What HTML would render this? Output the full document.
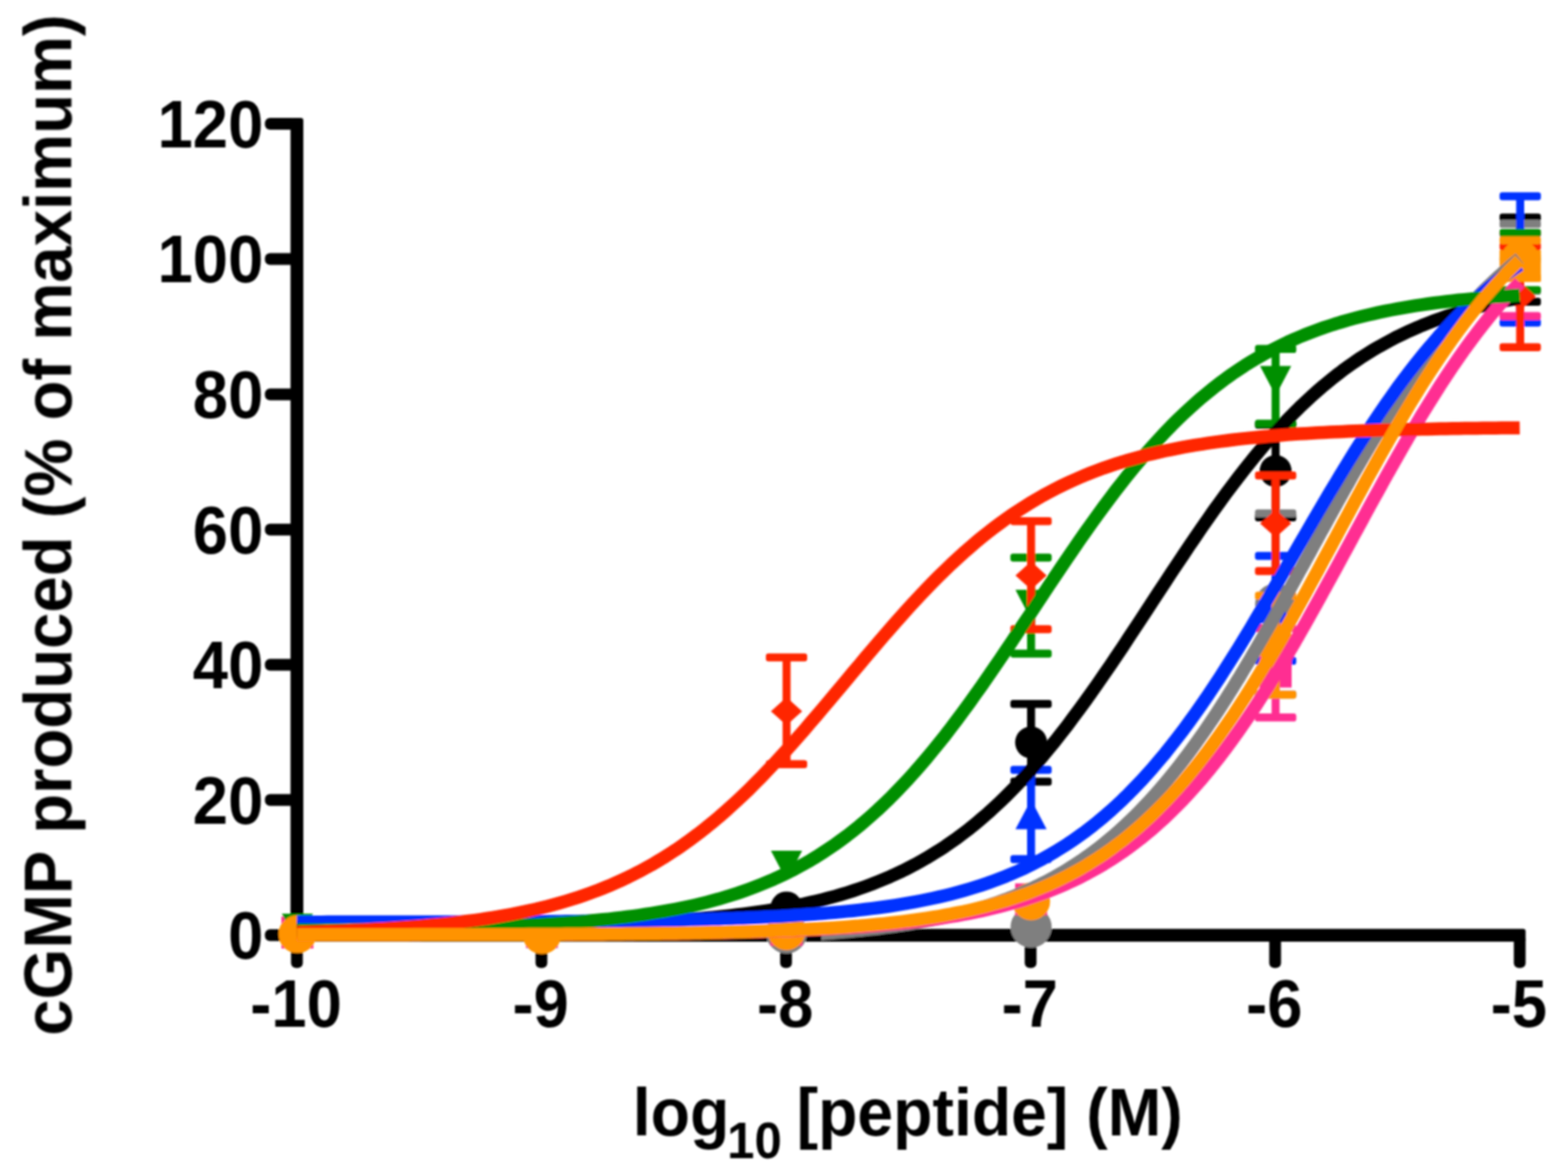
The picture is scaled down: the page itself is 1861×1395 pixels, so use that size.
<!DOCTYPE html>
<html lang="en">
<head>
<meta charset="utf-8">
<title>cGMP produced vs log10 [peptide]</title>
<style>
html,body{margin:0;padding:0;background:#fff;}
body{width:1861px;height:1395px;}
svg{display:block;}
text{font-family:"Liberation Sans",sans-serif;font-weight:bold;fill:#000;}
</style>
</head>
<body>
<svg xmlns="http://www.w3.org/2000/svg" width="1861" height="1395" viewBox="0 0 1861 1395">
<defs><filter id="soft" x="0" y="0" width="1861" height="1395" filterUnits="userSpaceOnUse"><feGaussianBlur stdDeviation="0.80"/></filter></defs>
<rect width="1861" height="1395" fill="#ffffff"/>
<g id="chart" filter="url(#soft)">
<g id="axes" fill="#000">
<rect x="344.8" y="140.1" width="15.2" height="977.8" rx="3"/>
<rect x="344.8" y="1102.7" width="1465.9" height="15.2" rx="3"/>
<rect x="314.4" y="1103.3" width="38.0" height="14.0" rx="6.0"/>
<rect x="314.4" y="942.8" width="38.0" height="14.0" rx="6.0"/>
<rect x="314.4" y="782.2" width="38.0" height="14.0" rx="6.0"/>
<rect x="314.4" y="621.7" width="38.0" height="14.0" rx="6.0"/>
<rect x="314.4" y="461.2" width="38.0" height="14.0" rx="6.0"/>
<rect x="314.4" y="300.6" width="38.0" height="14.0" rx="6.0"/>
<rect x="314.4" y="140.1" width="38.0" height="14.0" rx="6.0"/>
<rect x="345.4" y="1110.3" width="14.0" height="39.0" rx="6.0"/>
<rect x="635.6" y="1110.3" width="14.0" height="39.0" rx="6.0"/>
<rect x="925.9" y="1110.3" width="14.0" height="39.0" rx="6.0"/>
<rect x="1216.2" y="1110.3" width="14.0" height="39.0" rx="6.0"/>
<rect x="1506.4" y="1110.3" width="14.0" height="39.0" rx="6.0"/>
<rect x="1796.7" y="1110.3" width="14.0" height="39.0" rx="6.0"/>
</g>
<g id="ylabels">
<text transform="translate(312.5 1138.1) scale(0.9400 1)" font-size="80.0" text-anchor="end">0</text>
<text transform="translate(312.5 977.6) scale(0.9400 1)" font-size="80.0" text-anchor="end">20</text>
<text transform="translate(312.5 817.0) scale(0.9400 1)" font-size="80.0" text-anchor="end">40</text>
<text transform="translate(312.5 656.5) scale(0.9400 1)" font-size="80.0" text-anchor="end">60</text>
<text transform="translate(312.5 496.0) scale(0.9400 1)" font-size="80.0" text-anchor="end">80</text>
<text transform="translate(312.5 335.4) scale(0.9400 1)" font-size="80.0" text-anchor="end">100</text>
<text transform="translate(312.5 174.9) scale(0.9400 1)" font-size="80.0" text-anchor="end">120</text>
</g>
<g id="xlabels">
<text transform="translate(351.4 1219.0) scale(0.9400 1)" font-size="80.0" text-anchor="middle">-10</text>
<text transform="translate(641.6 1219.0) scale(0.9400 1)" font-size="80.0" text-anchor="middle">-9</text>
<text transform="translate(931.9 1219.0) scale(0.9400 1)" font-size="80.0" text-anchor="middle">-8</text>
<text transform="translate(1222.2 1219.0) scale(0.9400 1)" font-size="80.0" text-anchor="middle">-7</text>
<text transform="translate(1512.4 1219.0) scale(0.9400 1)" font-size="80.0" text-anchor="middle">-6</text>
<text transform="translate(1802.7 1219.0) scale(0.9400 1)" font-size="80.0" text-anchor="middle">-5</text>
</g>
<g id="xtitle">
<text transform="translate(751.0 1347.5) scale(0.9550 1)" font-size="80.0" xml:space="preserve">log<tspan x="117.28" dy="27.5" font-size="61.0">10</tspan><tspan x="181.42" dy="-27.5"> [peptide] (M)</tspan></text>
</g>
<g id="ytitle">
<text transform="translate(84.5 623.3) rotate(-90) scale(0.9686 1)" font-size="80.0" text-anchor="middle">cGMP produced (% of maximum)</text>
</g>
<g id="symbols">
<g class="black"><circle cx="353.0" cy="1110.3" r="19.0" fill="#000000"/><circle cx="643.2" cy="1110.3" r="19.0" fill="#000000"/><circle cx="933.5" cy="1077.4" r="19.0" fill="#000000"/><g fill="#000000"><rect x="1219.0" y="835.8" width="9.5" height="92.3"/><rect x="1199.2" y="831.0" width="49.0" height="9.5" rx="3.2"/><rect x="1199.2" y="923.3" width="49.0" height="9.5" rx="3.2"/></g><circle cx="1223.8" cy="881.5" r="19.0" fill="#000000"/><g fill="#000000"><rect x="1509.2" y="504.3" width="9.5" height="110.0"/><rect x="1489.5" y="499.5" width="49.0" height="9.5" rx="3.2"/><rect x="1489.5" y="609.5" width="49.0" height="9.5" rx="3.2"/></g><circle cx="1514.0" cy="559.3" r="19.0" fill="#000000"/><g fill="#000000"><rect x="1799.5" y="258.3" width="9.5" height="99.9"/><rect x="1779.8" y="253.5" width="49.0" height="9.5" rx="3.2"/><rect x="1779.8" y="353.4" width="49.0" height="9.5" rx="3.2"/></g><circle cx="1804.2" cy="307.6" r="19.0" fill="#000000"/></g>
<g class="gray"><circle cx="933.5" cy="1107.6" r="24.4" fill="#7f7f7f"/><circle cx="1223.8" cy="1100.7" r="24.4" fill="#7f7f7f"/><g fill="#7f7f7f"><rect x="1509.2" y="609.4" width="9.5" height="215.1"/><rect x="1489.5" y="604.7" width="49.0" height="9.5" rx="3.2"/><rect x="1489.5" y="819.8" width="49.0" height="9.5" rx="3.2"/></g><circle cx="1514.0" cy="717.0" r="24.4" fill="#7f7f7f"/><g fill="#7f7f7f"><rect x="1799.5" y="265.9" width="9.5" height="79.5"/><rect x="1779.8" y="261.1" width="49.0" height="9.5" rx="3.2"/><rect x="1779.8" y="340.6" width="49.0" height="9.5" rx="3.2"/></g><circle cx="1804.2" cy="307.6" r="24.4" fill="#7f7f7f"/></g>
<g class="blue"><path d="M353.0 1088.7 L371.5 1123.9 L334.5 1123.9 Z" fill="#0433ff"/><path d="M643.2 1090.3 L661.8 1125.5 L624.8 1125.5 Z" fill="#0433ff"/><path d="M933.5 1084.7 L952.0 1119.8 L915.0 1119.8 Z" fill="#0433ff"/><g fill="#0433ff"><rect x="1219.0" y="914.0" width="9.5" height="106.0"/><rect x="1199.2" y="909.3" width="49.0" height="9.5" rx="3.2"/><rect x="1199.2" y="1015.2" width="49.0" height="9.5" rx="3.2"/></g><path d="M1223.8 949.4 L1242.2 984.6 L1205.2 984.6 Z" fill="#0433ff"/><g fill="#0433ff"><rect x="1509.2" y="660.0" width="9.5" height="124.4"/><rect x="1489.5" y="655.3" width="49.0" height="9.5" rx="3.2"/><rect x="1489.5" y="779.7" width="49.0" height="9.5" rx="3.2"/></g><path d="M1514.0 704.6 L1532.5 739.8 L1495.5 739.8 Z" fill="#0433ff"/><g fill="#0433ff"><rect x="1799.5" y="233.0" width="9.5" height="150.1"/><rect x="1779.8" y="228.2" width="49.0" height="9.5" rx="3.2"/><rect x="1779.8" y="378.3" width="49.0" height="9.5" rx="3.2"/></g><path d="M1804.2 290.5 L1822.8 325.6 L1785.8 325.6 Z" fill="#0433ff"/></g>
<g class="pink"><rect x="334.0" y="1088.1" width="38.0" height="38.0" fill="#ff2f92"/><rect x="624.2" y="1087.3" width="38.0" height="38.0" fill="#ff2f92"/><rect x="914.5" y="1084.9" width="38.0" height="38.0" fill="#ff2f92"/><rect x="1204.8" y="1048.8" width="38.0" height="38.0" fill="#ff2f92"/><g fill="#ff2f92"><rect x="1509.2" y="745.9" width="9.5" height="106.0"/><rect x="1489.5" y="741.1" width="49.0" height="9.5" rx="3.2"/><rect x="1489.5" y="847.1" width="49.0" height="9.5" rx="3.2"/></g><rect x="1495.0" y="778.3" width="38.0" height="38.0" fill="#ff2f92"/><g fill="#ff2f92"><rect x="1799.5" y="277.1" width="9.5" height="98.1"/><rect x="1779.8" y="272.4" width="49.0" height="9.5" rx="3.2"/><rect x="1779.8" y="370.5" width="49.0" height="9.5" rx="3.2"/></g><rect x="1785.2" y="288.6" width="38.0" height="38.0" fill="#ff2f92"/></g>
<g class="green"><path d="M353.0 1119.8 L371.5 1084.7 L334.5 1084.7 Z" fill="#008f00"/><path d="M643.2 1123.9 L661.8 1088.7 L624.8 1088.7 Z" fill="#008f00"/><path d="M933.5 1045.2 L952.0 1010.0 L915.0 1010.0 Z" fill="#008f00"/><g fill="#008f00"><rect x="1219.0" y="662.0" width="9.5" height="114.0"/><rect x="1199.2" y="657.3" width="49.0" height="9.5" rx="3.2"/><rect x="1199.2" y="771.2" width="49.0" height="9.5" rx="3.2"/></g><path d="M1223.8 735.4 L1242.2 700.2 L1205.2 700.2 Z" fill="#008f00"/><g fill="#008f00"><rect x="1509.2" y="414.4" width="9.5" height="88.7"/><rect x="1489.5" y="409.6" width="49.0" height="9.5" rx="3.2"/><rect x="1489.5" y="498.3" width="49.0" height="9.5" rx="3.2"/></g><path d="M1514.0 469.7 L1532.5 434.5 L1495.5 434.5 Z" fill="#008f00"/><g fill="#008f00"><rect x="1799.5" y="276.6" width="9.5" height="68.0"/><rect x="1779.8" y="271.8" width="49.0" height="9.5" rx="3.2"/><rect x="1779.8" y="339.8" width="49.0" height="9.5" rx="3.2"/></g><path d="M1804.2 328.4 L1822.8 293.3 L1785.8 293.3 Z" fill="#008f00"/></g>
<g class="red"><path d="M353.0 1093.6 L371.5 1110.3 L353.0 1127.0 L334.5 1110.3 Z" fill="#ff2600"/><path d="M643.2 1091.2 L661.8 1107.9 L643.2 1124.5 L624.8 1107.9 Z" fill="#ff2600"/><g fill="#ff2600"><rect x="928.8" y="780.5" width="9.5" height="126.7"/><rect x="909.0" y="775.7" width="49.0" height="9.5" rx="3.2"/><rect x="909.0" y="902.5" width="49.0" height="9.5" rx="3.2"/></g><path d="M933.5 827.7 L952.0 844.4 L933.5 861.0 L915.0 844.4 Z" fill="#ff2600"/><g fill="#ff2600"><rect x="1219.0" y="618.7" width="9.5" height="128.3"/><rect x="1199.2" y="613.9" width="49.0" height="9.5" rx="3.2"/><rect x="1199.2" y="742.3" width="49.0" height="9.5" rx="3.2"/></g><path d="M1223.8 666.6 L1242.2 683.3 L1223.8 699.9 L1205.2 683.3 Z" fill="#ff2600"/><g fill="#ff2600"><rect x="1509.2" y="564.5" width="9.5" height="113.5"/><rect x="1489.5" y="559.7" width="49.0" height="9.5" rx="3.2"/><rect x="1489.5" y="673.2" width="49.0" height="9.5" rx="3.2"/></g><path d="M1514.0 604.8 L1532.5 621.5 L1514.0 638.1 L1495.5 621.5 Z" fill="#ff2600"/><g fill="#ff2600"><rect x="1799.5" y="292.4" width="9.5" height="119.9"/><rect x="1779.8" y="287.6" width="49.0" height="9.5" rx="3.2"/><rect x="1779.8" y="407.5" width="49.0" height="9.5" rx="3.2"/></g><path d="M1804.2 335.1 L1822.8 351.8 L1804.2 368.4 L1785.8 351.8 Z" fill="#ff2600"/></g>
<g class="orange"><circle cx="353.0" cy="1109.1" r="22.5" fill="#ff9300"/><circle cx="643.2" cy="1110.3" r="22.5" fill="#ff9300"/><circle cx="933.5" cy="1105.7" r="22.5" fill="#ff9300"/><circle cx="1223.8" cy="1070.2" r="22.5" fill="#ff9300"/><g fill="#ff9300"><rect x="1509.2" y="707.4" width="9.5" height="117.4"/><rect x="1489.5" y="702.6" width="49.0" height="9.5" rx="3.2"/><rect x="1489.5" y="820.0" width="49.0" height="9.5" rx="3.2"/></g><circle cx="1514.0" cy="765.2" r="22.5" fill="#ff9300"/><g fill="#ff9300"><rect x="1799.5" y="285.2" width="9.5" height="44.5"/><rect x="1779.8" y="280.4" width="49.0" height="9.5" rx="3.2"/><rect x="1779.8" y="324.9" width="49.0" height="9.5" rx="3.2"/></g><circle cx="1804.2" cy="307.6" r="22.5" fill="#ff9300"/><rect x="1779.8" y="297.0" width="49.0" height="37.5" fill="#ff9300"/></g>
</g>
<g id="curves" fill="none" stroke-width="15.5" stroke-linejoin="round">
<path d="M352.4 1101.0 L359.7 1101.0 L366.9 1101.0 L374.2 1101.0 L381.4 1101.0 L388.7 1101.0 L395.9 1100.9 L403.2 1100.9 L410.4 1100.9 L417.7 1100.9 L425.0 1100.8 L432.2 1100.8 L439.5 1100.8 L446.7 1100.8 L454.0 1100.7 L461.2 1100.7 L468.5 1100.7 L475.8 1100.6 L483.0 1100.6 L490.3 1100.6 L497.5 1100.5 L504.8 1100.5 L512.0 1100.4 L519.3 1100.4 L526.5 1100.3 L533.8 1100.2 L541.1 1100.2 L548.3 1100.1 L555.6 1100.1 L562.8 1100.0 L570.1 1099.9 L577.3 1099.8 L584.6 1099.7 L591.9 1099.6 L599.1 1099.5 L606.4 1099.4 L613.6 1099.3 L620.9 1099.2 L628.1 1099.1 L635.4 1099.0 L642.6 1098.8 L649.9 1098.7 L657.2 1098.5 L664.4 1098.4 L671.7 1098.2 L678.9 1098.0 L686.2 1097.8 L693.4 1097.6 L700.7 1097.4 L708.0 1097.2 L715.2 1096.9 L722.5 1096.7 L729.7 1096.4 L737.0 1096.1 L744.2 1095.8 L751.5 1095.5 L758.8 1095.1 L766.0 1094.8 L773.3 1094.4 L780.5 1094.0 L787.8 1093.6 L795.0 1093.1 L802.3 1092.6 L809.5 1092.1 L816.8 1091.6 L824.1 1091.0 L831.3 1090.4 L838.6 1089.8 L845.8 1089.1 L853.1 1088.4 L860.3 1087.7 L867.6 1086.9 L874.9 1086.0 L882.1 1085.1 L889.4 1084.2 L896.6 1083.2 L903.9 1082.2 L911.1 1081.1 L918.4 1079.9 L925.6 1078.7 L932.9 1077.4 L940.2 1076.0 L947.4 1074.6 L954.7 1073.1 L961.9 1071.4 L969.2 1069.7 L976.4 1068.0 L983.7 1066.1 L991.0 1064.1 L998.2 1062.0 L1005.5 1059.8 L1012.7 1057.5 L1020.0 1055.0 L1027.2 1052.5 L1034.5 1049.8 L1041.7 1046.9 L1049.0 1043.9 L1056.3 1040.8 L1063.5 1037.5 L1070.8 1034.1 L1078.0 1030.5 L1085.3 1026.7 L1092.5 1022.7 L1099.8 1018.6 L1107.0 1014.2 L1114.3 1009.7 L1121.6 1004.9 L1128.8 999.9 L1136.1 994.8 L1143.3 989.4 L1150.6 983.8 L1157.8 977.9 L1165.1 971.8 L1172.4 965.5 L1179.6 958.9 L1186.9 952.1 L1194.1 945.1 L1201.4 937.8 L1208.6 930.3 L1215.9 922.5 L1223.2 914.5 L1230.4 906.2 L1237.7 897.7 L1244.9 888.9 L1252.2 880.0 L1259.4 870.8 L1266.7 861.4 L1273.9 851.7 L1281.2 841.9 L1288.5 831.9 L1295.7 821.8 L1303.0 811.4 L1310.2 800.9 L1317.5 790.3 L1324.7 779.6 L1332.0 768.8 L1339.2 757.8 L1346.5 746.8 L1353.8 735.8 L1361.0 724.7 L1368.3 713.6 L1375.5 702.5 L1382.8 691.5 L1390.0 680.4 L1397.3 669.5 L1404.6 658.6 L1411.8 647.8 L1419.1 637.1 L1426.3 626.5 L1433.6 616.1 L1440.8 605.8 L1448.1 595.7 L1455.3 585.8 L1462.6 576.1 L1469.9 566.5 L1477.1 557.2 L1484.4 548.1 L1491.6 539.2 L1498.9 530.6 L1506.1 522.2 L1513.4 514.0 L1520.7 506.1 L1527.9 498.4 L1535.2 490.9 L1542.4 483.7 L1549.7 476.8 L1556.9 470.1 L1564.2 463.6 L1571.4 457.4 L1578.7 451.4 L1586.0 445.6 L1593.2 440.1 L1600.5 434.8 L1607.7 429.7 L1615.0 424.8 L1622.2 420.2 L1629.5 415.7 L1636.8 411.4 L1644.0 407.4 L1651.3 403.5 L1658.5 399.7 L1665.8 396.2 L1673.0 392.8 L1680.3 389.6 L1687.5 386.5 L1694.8 383.6 L1702.1 380.8 L1709.3 378.2 L1716.6 375.7 L1723.8 373.3 L1731.1 371.0 L1738.3 368.8 L1745.6 366.8 L1752.9 364.8 L1760.1 363.0 L1767.4 361.2 L1774.6 359.6 L1781.9 358.0 L1789.1 356.5 L1796.4 355.1 L1803.7 353.8" stroke="#000000"/>
<path d="M974.4 1108.4 L978.6 1108.1 L982.7 1107.8 L986.8 1107.5 L991.0 1107.1 L995.1 1106.8 L999.3 1106.4 L1003.4 1106.1 L1007.6 1105.7 L1011.7 1105.3 L1015.9 1104.9 L1020.0 1104.5 L1024.2 1104.0 L1028.3 1103.6 L1032.5 1103.1 L1036.6 1102.7 L1040.7 1102.2 L1044.9 1101.7 L1049.0 1101.1 L1053.2 1100.6 L1057.3 1100.1 L1061.5 1099.5 L1065.6 1098.9 L1069.8 1098.3 L1073.9 1097.6 L1078.1 1097.0 L1082.2 1096.3 L1086.4 1095.6 L1090.5 1094.9 L1094.6 1094.2 L1098.8 1093.4 L1102.9 1092.6 L1107.1 1091.8 L1111.2 1091.0 L1115.4 1090.1 L1119.5 1089.2 L1123.7 1088.3 L1127.8 1087.4 L1132.0 1086.4 L1136.1 1085.4 L1140.3 1084.3 L1144.4 1083.3 L1148.5 1082.2 L1152.7 1081.0 L1156.8 1079.9 L1161.0 1078.6 L1165.1 1077.4 L1169.3 1076.1 L1173.4 1074.8 L1177.6 1073.4 L1181.7 1072.0 L1185.9 1070.6 L1190.0 1069.1 L1194.2 1067.6 L1198.3 1066.0 L1202.4 1064.4 L1206.6 1062.7 L1210.7 1061.0 L1214.9 1059.2 L1219.0 1057.4 L1223.2 1055.5 L1227.3 1053.6 L1231.5 1051.6 L1235.6 1049.5 L1239.8 1047.4 L1243.9 1045.3 L1248.1 1043.0 L1252.2 1040.8 L1256.3 1038.4 L1260.5 1036.0 L1264.6 1033.5 L1268.8 1031.0 L1272.9 1028.3 L1277.1 1025.7 L1281.2 1022.9 L1285.4 1020.1 L1289.5 1017.2 L1293.7 1014.2 L1297.8 1011.1 L1302.0 1008.0 L1306.1 1004.8 L1310.2 1001.5 L1314.4 998.1 L1318.5 994.6 L1322.7 991.1 L1326.8 987.5 L1331.0 983.7 L1335.1 979.9 L1339.3 976.0 L1343.4 972.0 L1347.6 968.0 L1351.7 963.8 L1355.9 959.5 L1360.0 955.2 L1364.2 950.7 L1368.3 946.2 L1372.4 941.6 L1376.6 936.8 L1380.7 932.0 L1384.9 927.1 L1389.0 922.0 L1393.2 916.9 L1397.3 911.7 L1401.5 906.4 L1405.6 901.0 L1409.8 895.5 L1413.9 889.9 L1418.1 884.2 L1422.2 878.4 L1426.3 872.6 L1430.5 866.6 L1434.6 860.5 L1438.8 854.4 L1442.9 848.2 L1447.1 841.9 L1451.2 835.5 L1455.4 829.0 L1459.5 822.4 L1463.7 815.8 L1467.8 809.0 L1472.0 802.3 L1476.1 795.4 L1480.2 788.5 L1484.4 781.5 L1488.5 774.4 L1492.7 767.3 L1496.8 760.1 L1501.0 752.9 L1505.1 745.6 L1509.3 738.3 L1513.4 730.9 L1517.6 723.5 L1521.7 716.1 L1525.9 708.6 L1530.0 701.1 L1534.1 693.5 L1538.3 686.0 L1542.4 678.4 L1546.6 670.9 L1550.7 663.3 L1554.9 655.7 L1559.0 648.1 L1563.2 640.5 L1567.3 632.9 L1571.5 625.4 L1575.6 617.8 L1579.8 610.3 L1583.9 602.8 L1588.0 595.3 L1592.2 587.9 L1596.3 580.5 L1600.5 573.1 L1604.6 565.8 L1608.8 558.5 L1612.9 551.3 L1617.1 544.1 L1621.2 537.0 L1625.4 530.0 L1629.5 523.0 L1633.7 516.1 L1637.8 509.2 L1641.9 502.4 L1646.1 495.7 L1650.2 489.1 L1654.4 482.5 L1658.5 476.1 L1662.7 469.7 L1666.8 463.4 L1671.0 457.1 L1675.1 451.0 L1679.3 445.0 L1683.4 439.0 L1687.6 433.2 L1691.7 427.4 L1695.8 421.7 L1700.0 416.1 L1704.1 410.6 L1708.3 405.2 L1712.4 400.0 L1716.6 394.8 L1720.7 389.6 L1724.9 384.6 L1729.0 379.7 L1733.2 374.9 L1737.3 370.2 L1741.5 365.6 L1745.6 361.0 L1749.7 356.6 L1753.9 352.3 L1758.0 348.0 L1762.2 343.8 L1766.3 339.8 L1770.5 335.8 L1774.6 331.9 L1778.8 328.1 L1782.9 324.4 L1787.1 320.8 L1791.2 317.3 L1795.4 313.8 L1799.5 310.4 L1803.7 307.1" stroke="#7f7f7f"/>
<path d="M352.4 1094.7 L359.7 1094.7 L366.9 1094.7 L374.2 1094.7 L381.4 1094.7 L388.7 1094.6 L395.9 1094.6 L403.2 1094.6 L410.4 1094.6 L417.7 1094.6 L425.0 1094.6 L432.2 1094.6 L439.5 1094.6 L446.7 1094.6 L454.0 1094.6 L461.2 1094.6 L468.5 1094.6 L475.8 1094.5 L483.0 1094.5 L490.3 1094.5 L497.5 1094.5 L504.8 1094.5 L512.0 1094.5 L519.3 1094.5 L526.5 1094.5 L533.8 1094.4 L541.1 1094.4 L548.3 1094.4 L555.6 1094.4 L562.8 1094.4 L570.1 1094.3 L577.3 1094.3 L584.6 1094.3 L591.9 1094.3 L599.1 1094.2 L606.4 1094.2 L613.6 1094.2 L620.9 1094.1 L628.1 1094.1 L635.4 1094.1 L642.6 1094.0 L649.9 1094.0 L657.2 1093.9 L664.4 1093.9 L671.7 1093.8 L678.9 1093.8 L686.2 1093.7 L693.4 1093.6 L700.7 1093.6 L708.0 1093.5 L715.2 1093.4 L722.5 1093.4 L729.7 1093.3 L737.0 1093.2 L744.2 1093.1 L751.5 1093.0 L758.8 1092.9 L766.0 1092.8 L773.3 1092.7 L780.5 1092.6 L787.8 1092.4 L795.0 1092.3 L802.3 1092.2 L809.5 1092.0 L816.8 1091.8 L824.1 1091.7 L831.3 1091.5 L838.6 1091.3 L845.8 1091.1 L853.1 1090.9 L860.3 1090.6 L867.6 1090.4 L874.9 1090.1 L882.1 1089.9 L889.4 1089.6 L896.6 1089.3 L903.9 1089.0 L911.1 1088.6 L918.4 1088.3 L925.6 1087.9 L932.9 1087.5 L940.2 1087.0 L947.4 1086.6 L954.7 1086.1 L961.9 1085.6 L969.2 1085.1 L976.4 1084.5 L983.7 1083.9 L991.0 1083.3 L998.2 1082.6 L1005.5 1081.9 L1012.7 1081.2 L1020.0 1080.4 L1027.2 1079.5 L1034.5 1078.6 L1041.7 1077.7 L1049.0 1076.7 L1056.3 1075.7 L1063.5 1074.6 L1070.8 1073.4 L1078.0 1072.2 L1085.3 1070.9 L1092.5 1069.5 L1099.8 1068.0 L1107.0 1066.5 L1114.3 1064.9 L1121.6 1063.2 L1128.8 1061.4 L1136.1 1059.5 L1143.3 1057.5 L1150.6 1055.4 L1157.8 1053.2 L1165.1 1050.8 L1172.4 1048.4 L1179.6 1045.8 L1186.9 1043.0 L1194.1 1040.2 L1201.4 1037.1 L1208.6 1034.0 L1215.9 1030.6 L1223.2 1027.1 L1230.4 1023.4 L1237.7 1019.6 L1244.9 1015.5 L1252.2 1011.3 L1259.4 1006.8 L1266.7 1002.2 L1273.9 997.3 L1281.2 992.2 L1288.5 986.9 L1295.7 981.3 L1303.0 975.5 L1310.2 969.5 L1317.5 963.2 L1324.7 956.6 L1332.0 949.8 L1339.2 942.7 L1346.5 935.3 L1353.8 927.7 L1361.0 919.8 L1368.3 911.6 L1375.5 903.1 L1382.8 894.4 L1390.0 885.3 L1397.3 876.0 L1404.6 866.5 L1411.8 856.6 L1419.1 846.5 L1426.3 836.2 L1433.6 825.6 L1440.8 814.8 L1448.1 803.7 L1455.3 792.4 L1462.6 780.9 L1469.9 769.3 L1477.1 757.4 L1484.4 745.5 L1491.6 733.3 L1498.9 721.1 L1506.1 708.7 L1513.4 696.3 L1520.7 683.8 L1527.9 671.3 L1535.2 658.7 L1542.4 646.1 L1549.7 633.6 L1556.9 621.1 L1564.2 608.6 L1571.4 596.3 L1578.7 584.0 L1586.0 571.9 L1593.2 559.9 L1600.5 548.0 L1607.7 536.4 L1615.0 524.9 L1622.2 513.6 L1629.5 502.5 L1636.8 491.7 L1644.0 481.0 L1651.3 470.7 L1658.5 460.5 L1665.8 450.7 L1673.0 441.1 L1680.3 431.8 L1687.5 422.7 L1694.8 414.0 L1702.1 405.5 L1709.3 397.2 L1716.6 389.3 L1723.8 381.6 L1731.1 374.3 L1738.3 367.1 L1745.6 360.3 L1752.9 353.7 L1760.1 347.4 L1767.4 341.3 L1774.6 335.5 L1781.9 329.9 L1789.1 324.6 L1796.4 319.5 L1803.7 314.6" stroke="#0433ff"/>
<path d="M352.4 1109.5 L359.7 1109.4 L366.9 1109.4 L374.2 1109.4 L381.4 1109.4 L388.7 1109.4 L395.9 1109.4 L403.2 1109.4 L410.4 1109.4 L417.7 1109.4 L425.0 1109.4 L432.2 1109.4 L439.5 1109.4 L446.7 1109.4 L454.0 1109.4 L461.2 1109.4 L468.5 1109.4 L475.8 1109.4 L483.0 1109.4 L490.3 1109.4 L497.5 1109.4 L504.8 1109.3 L512.0 1109.3 L519.3 1109.3 L526.5 1109.3 L533.8 1109.3 L541.1 1109.3 L548.3 1109.3 L555.6 1109.3 L562.8 1109.3 L570.1 1109.2 L577.3 1109.2 L584.6 1109.2 L591.9 1109.2 L599.1 1109.2 L606.4 1109.2 L613.6 1109.1 L620.9 1109.1 L628.1 1109.1 L635.4 1109.1 L642.6 1109.0 L649.9 1109.0 L657.2 1109.0 L664.4 1109.0 L671.7 1108.9 L678.9 1108.9 L686.2 1108.8 L693.4 1108.8 L700.7 1108.8 L708.0 1108.7 L715.2 1108.7 L722.5 1108.6 L729.7 1108.6 L737.0 1108.5 L744.2 1108.5 L751.5 1108.4 L758.8 1108.3 L766.0 1108.3 L773.3 1108.2 L780.5 1108.1 L787.8 1108.0 L795.0 1108.0 L802.3 1107.9 L809.5 1107.8 L816.8 1107.7 L824.1 1107.6 L831.3 1107.4 L838.6 1107.3 L845.8 1107.2 L853.1 1107.1 L860.3 1106.9 L867.6 1106.8 L874.9 1106.6 L882.1 1106.4 L889.4 1106.3 L896.6 1106.1 L903.9 1105.9 L911.1 1105.6 L918.4 1105.4 L925.6 1105.2 L932.9 1104.9 L940.2 1104.7 L947.4 1104.4 L954.7 1104.1 L961.9 1103.7 L969.2 1103.4 L976.4 1103.0 L983.7 1102.7 L991.0 1102.3 L998.2 1101.8 L1005.5 1101.4 L1012.7 1100.9 L1020.0 1100.4 L1027.2 1099.9 L1034.5 1099.3 L1041.7 1098.7 L1049.0 1098.1 L1056.3 1097.4 L1063.5 1096.7 L1070.8 1096.0 L1078.0 1095.2 L1085.3 1094.3 L1092.5 1093.5 L1099.8 1092.5 L1107.0 1091.5 L1114.3 1090.5 L1121.6 1089.4 L1128.8 1088.2 L1136.1 1087.0 L1143.3 1085.7 L1150.6 1084.3 L1157.8 1082.9 L1165.1 1081.4 L1172.4 1079.7 L1179.6 1078.0 L1186.9 1076.2 L1194.1 1074.3 L1201.4 1072.3 L1208.6 1070.2 L1215.9 1068.0 L1223.2 1065.7 L1230.4 1063.2 L1237.7 1060.6 L1244.9 1057.9 L1252.2 1055.0 L1259.4 1052.0 L1266.7 1048.8 L1273.9 1045.4 L1281.2 1041.9 L1288.5 1038.2 L1295.7 1034.3 L1303.0 1030.2 L1310.2 1026.0 L1317.5 1021.5 L1324.7 1016.8 L1332.0 1011.9 L1339.2 1006.7 L1346.5 1001.3 L1353.8 995.7 L1361.0 989.8 L1368.3 983.7 L1375.5 977.3 L1382.8 970.7 L1390.0 963.7 L1397.3 956.5 L1404.6 949.0 L1411.8 941.2 L1419.1 933.1 L1426.3 924.8 L1433.6 916.1 L1440.8 907.1 L1448.1 897.9 L1455.3 888.3 L1462.6 878.4 L1469.9 868.3 L1477.1 857.9 L1484.4 847.2 L1491.6 836.2 L1498.9 824.9 L1506.1 813.4 L1513.4 801.7 L1520.7 789.7 L1527.9 777.6 L1535.2 765.2 L1542.4 752.6 L1549.7 739.8 L1556.9 726.9 L1564.2 713.9 L1571.4 700.8 L1578.7 687.5 L1586.0 674.2 L1593.2 660.9 L1600.5 647.5 L1607.7 634.1 L1615.0 620.7 L1622.2 607.4 L1629.5 594.1 L1636.8 580.9 L1644.0 567.8 L1651.3 554.9 L1658.5 542.1 L1665.8 529.4 L1673.0 516.9 L1680.3 504.6 L1687.5 492.6 L1694.8 480.7 L1702.1 469.1 L1709.3 457.7 L1716.6 446.6 L1723.8 435.8 L1731.1 425.2 L1738.3 414.9 L1745.6 404.9 L1752.9 395.2 L1760.1 385.8 L1767.4 376.7 L1774.6 367.9 L1781.9 359.4 L1789.1 351.2 L1796.4 343.2 L1803.7 335.6" stroke="#ff2f92"/>
<path d="M352.4 1104.1 L359.7 1104.1 L366.9 1104.0 L374.2 1104.0 L381.4 1103.9 L388.7 1103.8 L395.9 1103.8 L403.2 1103.7 L410.4 1103.7 L417.7 1103.6 L425.0 1103.5 L432.2 1103.4 L439.5 1103.4 L446.7 1103.3 L454.0 1103.2 L461.2 1103.1 L468.5 1103.0 L475.8 1102.9 L483.0 1102.7 L490.3 1102.6 L497.5 1102.5 L504.8 1102.4 L512.0 1102.2 L519.3 1102.1 L526.5 1101.9 L533.8 1101.7 L541.1 1101.5 L548.3 1101.3 L555.6 1101.1 L562.8 1100.9 L570.1 1100.7 L577.3 1100.4 L584.6 1100.2 L591.9 1099.9 L599.1 1099.6 L606.4 1099.3 L613.6 1099.0 L620.9 1098.6 L628.1 1098.3 L635.4 1097.9 L642.6 1097.5 L649.9 1097.0 L657.2 1096.6 L664.4 1096.1 L671.7 1095.6 L678.9 1095.0 L686.2 1094.5 L693.4 1093.9 L700.7 1093.2 L708.0 1092.5 L715.2 1091.8 L722.5 1091.1 L729.7 1090.3 L737.0 1089.4 L744.2 1088.5 L751.5 1087.6 L758.8 1086.6 L766.0 1085.5 L773.3 1084.4 L780.5 1083.2 L787.8 1082.0 L795.0 1080.7 L802.3 1079.3 L809.5 1077.8 L816.8 1076.3 L824.1 1074.7 L831.3 1073.0 L838.6 1071.2 L845.8 1069.3 L853.1 1067.3 L860.3 1065.1 L867.6 1062.9 L874.9 1060.6 L882.1 1058.1 L889.4 1055.5 L896.6 1052.8 L903.9 1049.9 L911.1 1046.9 L918.4 1043.8 L925.6 1040.5 L932.9 1037.0 L940.2 1033.4 L947.4 1029.5 L954.7 1025.5 L961.9 1021.4 L969.2 1017.0 L976.4 1012.4 L983.7 1007.6 L991.0 1002.6 L998.2 997.4 L1005.5 992.0 L1012.7 986.4 L1020.0 980.5 L1027.2 974.4 L1034.5 968.0 L1041.7 961.5 L1049.0 954.6 L1056.3 947.6 L1063.5 940.3 L1070.8 932.7 L1078.0 924.9 L1085.3 916.9 L1092.5 908.6 L1099.8 900.1 L1107.0 891.4 L1114.3 882.4 L1121.6 873.3 L1128.8 863.9 L1136.1 854.3 L1143.3 844.5 L1150.6 834.6 L1157.8 824.4 L1165.1 814.2 L1172.4 803.7 L1179.6 793.2 L1186.9 782.5 L1194.1 771.8 L1201.4 761.0 L1208.6 750.1 L1215.9 739.1 L1223.2 728.2 L1230.4 717.2 L1237.7 706.2 L1244.9 695.3 L1252.2 684.4 L1259.4 673.6 L1266.7 662.9 L1273.9 652.3 L1281.2 641.7 L1288.5 631.3 L1295.7 621.1 L1303.0 611.0 L1310.2 601.1 L1317.5 591.3 L1324.7 581.8 L1332.0 572.5 L1339.2 563.3 L1346.5 554.4 L1353.8 545.7 L1361.0 537.3 L1368.3 529.0 L1375.5 521.1 L1382.8 513.3 L1390.0 505.8 L1397.3 498.6 L1404.6 491.5 L1411.8 484.8 L1419.1 478.2 L1426.3 471.9 L1433.6 465.9 L1440.8 460.1 L1448.1 454.5 L1455.3 449.1 L1462.6 443.9 L1469.9 439.0 L1477.1 434.2 L1484.4 429.7 L1491.6 425.4 L1498.9 421.2 L1506.1 417.3 L1513.4 413.5 L1520.7 409.9 L1527.9 406.4 L1535.2 403.1 L1542.4 400.0 L1549.7 397.0 L1556.9 394.2 L1564.2 391.5 L1571.4 388.9 L1578.7 386.5 L1586.0 384.2 L1593.2 382.0 L1600.5 379.9 L1607.7 377.9 L1615.0 376.0 L1622.2 374.2 L1629.5 372.6 L1636.8 370.9 L1644.0 369.4 L1651.3 368.0 L1658.5 366.6 L1665.8 365.3 L1673.0 364.1 L1680.3 362.9 L1687.5 361.8 L1694.8 360.8 L1702.1 359.8 L1709.3 358.9 L1716.6 358.0 L1723.8 357.1 L1731.1 356.3 L1738.3 355.6 L1745.6 354.9 L1752.9 354.2 L1760.1 353.6 L1767.4 353.0 L1774.6 352.4 L1781.9 351.9 L1789.1 351.4 L1796.4 350.9 L1803.7 350.4" stroke="#008f00"/>
<path d="M352.4 1106.9 L359.7 1106.7 L366.9 1106.5 L374.2 1106.2 L381.4 1106.0 L388.7 1105.7 L395.9 1105.5 L403.2 1105.2 L410.4 1104.9 L417.7 1104.6 L425.0 1104.2 L432.2 1103.9 L439.5 1103.5 L446.7 1103.1 L454.0 1102.7 L461.2 1102.2 L468.5 1101.8 L475.8 1101.3 L483.0 1100.8 L490.3 1100.2 L497.5 1099.6 L504.8 1099.0 L512.0 1098.3 L519.3 1097.6 L526.5 1096.9 L533.8 1096.1 L541.1 1095.3 L548.3 1094.4 L555.6 1093.5 L562.8 1092.6 L570.1 1091.6 L577.3 1090.5 L584.6 1089.3 L591.9 1088.1 L599.1 1086.9 L606.4 1085.6 L613.6 1084.2 L620.9 1082.7 L628.1 1081.1 L635.4 1079.5 L642.6 1077.7 L649.9 1075.9 L657.2 1074.0 L664.4 1072.0 L671.7 1069.9 L678.9 1067.7 L686.2 1065.3 L693.4 1062.9 L700.7 1060.3 L708.0 1057.6 L715.2 1054.7 L722.5 1051.8 L729.7 1048.7 L737.0 1045.4 L744.2 1042.0 L751.5 1038.4 L758.8 1034.7 L766.0 1030.8 L773.3 1026.8 L780.5 1022.5 L787.8 1018.1 L795.0 1013.5 L802.3 1008.8 L809.5 1003.8 L816.8 998.7 L824.1 993.3 L831.3 987.8 L838.6 982.1 L845.8 976.2 L853.1 970.1 L860.3 963.8 L867.6 957.3 L874.9 950.6 L882.1 943.8 L889.4 936.8 L896.6 929.6 L903.9 922.2 L911.1 914.7 L918.4 907.0 L925.6 899.1 L932.9 891.2 L940.2 883.1 L947.4 874.9 L954.7 866.6 L961.9 858.1 L969.2 849.7 L976.4 841.1 L983.7 832.5 L991.0 823.8 L998.2 815.2 L1005.5 806.5 L1012.7 797.8 L1020.0 789.2 L1027.2 780.5 L1034.5 771.9 L1041.7 763.4 L1049.0 755.0 L1056.3 746.6 L1063.5 738.3 L1070.8 730.2 L1078.0 722.1 L1085.3 714.2 L1092.5 706.5 L1099.8 698.9 L1107.0 691.4 L1114.3 684.1 L1121.6 677.0 L1128.8 670.0 L1136.1 663.3 L1143.3 656.7 L1150.6 650.3 L1157.8 644.1 L1165.1 638.1 L1172.4 632.3 L1179.6 626.7 L1186.9 621.2 L1194.1 616.0 L1201.4 610.9 L1208.6 606.1 L1215.9 601.4 L1223.2 596.9 L1230.4 592.6 L1237.7 588.4 L1244.9 584.5 L1252.2 580.6 L1259.4 577.0 L1266.7 573.5 L1273.9 570.2 L1281.2 567.0 L1288.5 563.9 L1295.7 561.0 L1303.0 558.3 L1310.2 555.6 L1317.5 553.1 L1324.7 550.7 L1332.0 548.4 L1339.2 546.2 L1346.5 544.2 L1353.8 542.2 L1361.0 540.3 L1368.3 538.6 L1375.5 536.9 L1382.8 535.3 L1390.0 533.8 L1397.3 532.3 L1404.6 530.9 L1411.8 529.7 L1419.1 528.4 L1426.3 527.3 L1433.6 526.2 L1440.8 525.1 L1448.1 524.1 L1455.3 523.2 L1462.6 522.3 L1469.9 521.4 L1477.1 520.6 L1484.4 519.9 L1491.6 519.2 L1498.9 518.5 L1506.1 517.9 L1513.4 517.3 L1520.7 516.7 L1527.9 516.1 L1535.2 515.6 L1542.4 515.1 L1549.7 514.7 L1556.9 514.3 L1564.2 513.8 L1571.4 513.5 L1578.7 513.1 L1586.0 512.7 L1593.2 512.4 L1600.5 512.1 L1607.7 511.8 L1615.0 511.5 L1622.2 511.3 L1629.5 511.0 L1636.8 510.8 L1644.0 510.6 L1651.3 510.4 L1658.5 510.2 L1665.8 510.0 L1673.0 509.8 L1680.3 509.7 L1687.5 509.5 L1694.8 509.4 L1702.1 509.2 L1709.3 509.1 L1716.6 509.0 L1723.8 508.8 L1731.1 508.7 L1738.3 508.6 L1745.6 508.5 L1752.9 508.4 L1760.1 508.3 L1767.4 508.3 L1774.6 508.2 L1781.9 508.1 L1789.1 508.0 L1796.4 508.0 L1803.7 507.9" stroke="#ff2600"/>
<path d="M352.4 1109.7 L359.7 1109.7 L366.9 1109.7 L374.2 1109.7 L381.4 1109.7 L388.7 1109.7 L395.9 1109.7 L403.2 1109.7 L410.4 1109.7 L417.7 1109.7 L425.0 1109.7 L432.2 1109.7 L439.5 1109.7 L446.7 1109.7 L454.0 1109.7 L461.2 1109.7 L468.5 1109.7 L475.8 1109.7 L483.0 1109.7 L490.3 1109.6 L497.5 1109.6 L504.8 1109.6 L512.0 1109.6 L519.3 1109.6 L526.5 1109.6 L533.8 1109.6 L541.1 1109.6 L548.3 1109.5 L555.6 1109.5 L562.8 1109.5 L570.1 1109.5 L577.3 1109.5 L584.6 1109.5 L591.9 1109.4 L599.1 1109.4 L606.4 1109.4 L613.6 1109.4 L620.9 1109.4 L628.1 1109.3 L635.4 1109.3 L642.6 1109.3 L649.9 1109.2 L657.2 1109.2 L664.4 1109.2 L671.7 1109.1 L678.9 1109.1 L686.2 1109.0 L693.4 1109.0 L700.7 1109.0 L708.0 1108.9 L715.2 1108.9 L722.5 1108.8 L729.7 1108.7 L737.0 1108.7 L744.2 1108.6 L751.5 1108.5 L758.8 1108.5 L766.0 1108.4 L773.3 1108.3 L780.5 1108.2 L787.8 1108.1 L795.0 1108.0 L802.3 1107.9 L809.5 1107.8 L816.8 1107.7 L824.1 1107.6 L831.3 1107.4 L838.6 1107.3 L845.8 1107.1 L853.1 1107.0 L860.3 1106.8 L867.6 1106.6 L874.9 1106.4 L882.1 1106.2 L889.4 1106.0 L896.6 1105.8 L903.9 1105.6 L911.1 1105.3 L918.4 1105.1 L925.6 1104.8 L932.9 1104.5 L940.2 1104.2 L947.4 1103.8 L954.7 1103.5 L961.9 1103.1 L969.2 1102.7 L976.4 1102.3 L983.7 1101.9 L991.0 1101.4 L998.2 1100.9 L1005.5 1100.4 L1012.7 1099.8 L1020.0 1099.3 L1027.2 1098.6 L1034.5 1098.0 L1041.7 1097.3 L1049.0 1096.6 L1056.3 1095.8 L1063.5 1095.0 L1070.8 1094.1 L1078.0 1093.2 L1085.3 1092.2 L1092.5 1091.2 L1099.8 1090.1 L1107.0 1089.0 L1114.3 1087.8 L1121.6 1086.5 L1128.8 1085.2 L1136.1 1083.7 L1143.3 1082.3 L1150.6 1080.7 L1157.8 1079.0 L1165.1 1077.2 L1172.4 1075.4 L1179.6 1073.4 L1186.9 1071.3 L1194.1 1069.2 L1201.4 1066.9 L1208.6 1064.4 L1215.9 1061.9 L1223.2 1059.2 L1230.4 1056.4 L1237.7 1053.4 L1244.9 1050.3 L1252.2 1047.0 L1259.4 1043.5 L1266.7 1039.9 L1273.9 1036.1 L1281.2 1032.1 L1288.5 1027.9 L1295.7 1023.4 L1303.0 1018.8 L1310.2 1014.0 L1317.5 1008.9 L1324.7 1003.6 L1332.0 998.1 L1339.2 992.3 L1346.5 986.2 L1353.8 979.9 L1361.0 973.3 L1368.3 966.5 L1375.5 959.3 L1382.8 951.9 L1390.0 944.2 L1397.3 936.2 L1404.6 927.9 L1411.8 919.3 L1419.1 910.4 L1426.3 901.2 L1433.6 891.7 L1440.8 881.9 L1448.1 871.8 L1455.3 861.4 L1462.6 850.8 L1469.9 839.8 L1477.1 828.6 L1484.4 817.1 L1491.6 805.4 L1498.9 793.4 L1506.1 781.2 L1513.4 768.7 L1520.7 756.1 L1527.9 743.3 L1535.2 730.3 L1542.4 717.2 L1549.7 704.0 L1556.9 690.6 L1564.2 677.2 L1571.4 663.7 L1578.7 650.2 L1586.0 636.6 L1593.2 623.1 L1600.5 609.6 L1607.7 596.1 L1615.0 582.7 L1622.2 569.4 L1629.5 556.2 L1636.8 543.1 L1644.0 530.2 L1651.3 517.4 L1658.5 504.9 L1665.8 492.5 L1673.0 480.4 L1680.3 468.5 L1687.5 456.8 L1694.8 445.4 L1702.1 434.3 L1709.3 423.4 L1716.6 412.8 L1723.8 402.5 L1731.1 392.5 L1738.3 382.8 L1745.6 373.4 L1752.9 364.3 L1760.1 355.5 L1767.4 347.0 L1774.6 338.8 L1781.9 330.9 L1789.1 323.3 L1796.4 316.0 L1803.7 308.9" stroke="#ff9300"/>
</g>
</g>
</svg>
</body>
</html>
